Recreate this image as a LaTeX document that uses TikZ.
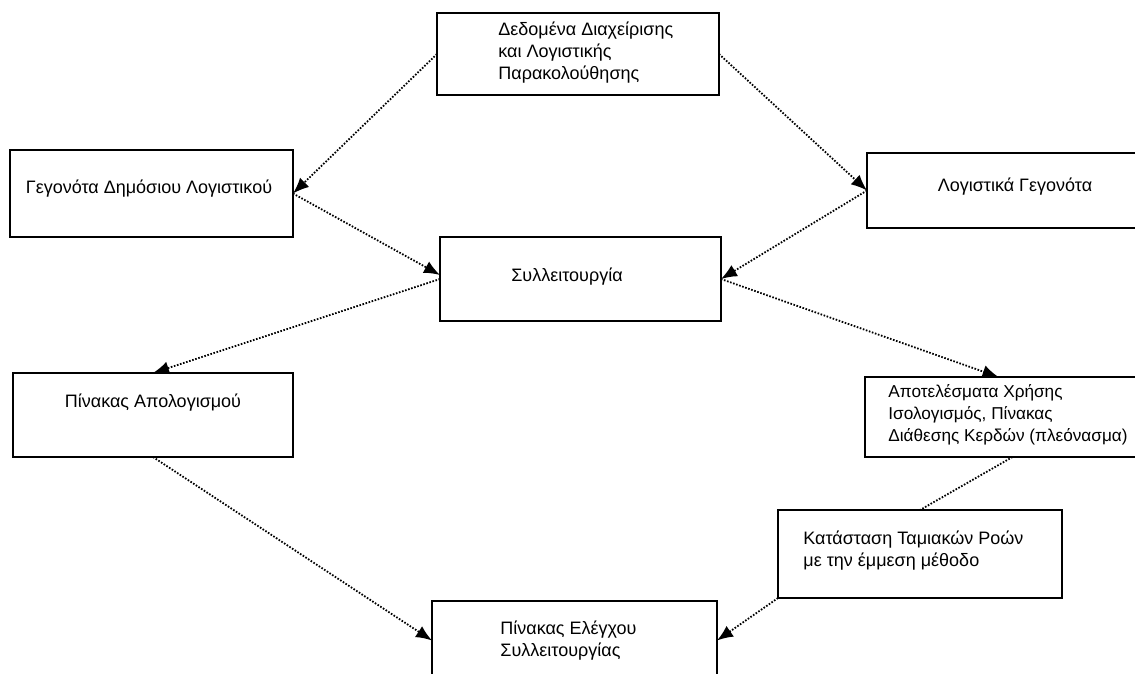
\documentclass[tikz,border=0pt]{standalone}
\usepackage{fontspec}
\setmainfont{Liberation Sans}
\usetikzlibrary{arrows.meta,calc}

\begin{document}
\begin{tikzpicture}[x=0.5pt,y=-0.5pt,
	box/.style={draw,line width=1pt,inner sep=0pt,outer sep=0pt},
	txt/.style={inner sep=0pt,font=\fontsize{9}{11}\selectfont},
	link/.style={line width=0.9pt,dash pattern=on 0.8pt off 0.8pt,-{Latex[length=8pt,width=6.5pt]}}]
	\useasboundingbox (0,0) rectangle (1135,674);
	\clip (0,0) rectangle (1135,674);
	% Kaesten zeichnen
	\node[box,minimum width=141pt,minimum height=41pt] (dat) at (578,54) {};
	\node[box,minimum width=141.5pt,minimum height=43.5pt] (gdl) at (151.5,193.5) {};
	\node[box,minimum width=148pt,minimum height=37.5pt] (log) at (1015,190.5) {};
	\node[box,minimum width=140.5pt,minimum height=42pt] (syl) at (580.5,279) {};
	\node[box,minimum width=140pt,minimum height=42pt] (apl) at (153,415) {};
	\node[box,minimum width=147.5pt,minimum height=40pt] (apo) at (1012.5,417) {};
	\node[box,minimum width=142pt,minimum height=44pt] (kat) at (920,554) {};
	\node[box,minimum width=142.5pt,minimum height=39.5pt] (ele) at (574.5,640.5) {};
	% Beschriftungen
	\node[txt,anchor=west,align=left] (datT) at (498,53) {Δεδομένα Διαχείρισης\\και Λογιστικής\\Παρακολούθησης};
	\node[txt] (gdlT) at (149,189) {Γεγονότα Δημόσιου Λογιστικού};
	\node[txt] (logT) at (1015,187) {Λογιστικά Γεγονότα};
	\node[txt] (sylT) at (567,277) {Συλλειτουργία};
	\node[txt] (aplT) at (153,403) {Πίνακας Απολογισμού};
	\node[txt,anchor=west,align=left,font=\fontsize{8.6}{11}\selectfont] (apoT) at (888,415) {Αποτελέσματα Χρήσης\\Ισολογισμός, Πίνακας\\Διάθεσης Κερδών (πλεόνασμα)};
	\node[txt,anchor=west,align=left] (katT) at (803,551) {Κατάσταση Ταμιακών Ροών\\με την έμμεση μέθοδο};
	\node[txt,anchor=west,align=left] (eleT) at (500,641) {Πίνακας Ελέγχου\\Συλλειτουργίας};
	% Verbindungen
	\draw[link] (dat.west) -- (gdl.east);
	\draw[link] (dat.east) -- (log.west);
	\draw[link] (gdl.east) -- ([yshift=2pt]syl.west);
	\draw[link] (log.west) -- (syl.east);
	\draw[link] (syl.west) -- (apl.north);
	\draw[link] (syl.east) -- ([xshift=-7pt]apo.north);
	\draw[link] (apl.south) -- (ele.west);
	\draw[link,-] (apo.south) -- (kat.north);
	\draw[link] (kat.south west) -- (ele.east);
\end{tikzpicture}
\end{document}
